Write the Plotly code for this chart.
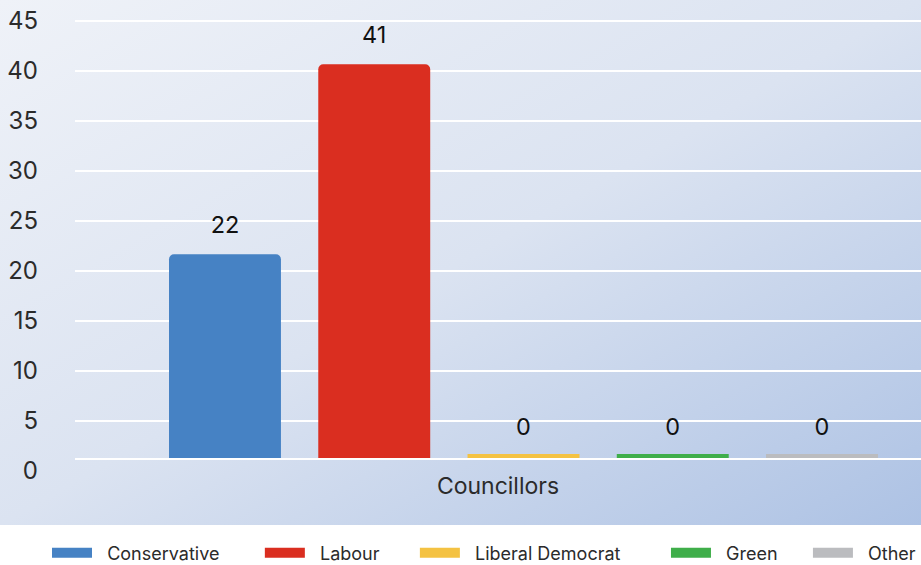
import base64
import plotly.graph_objects as go

# ---- data ----
category = ["Councillors"]
parties = ["Conservative", "Labour", "Liberal Democrat", "Green", "Other"]
seats = [22, 41, 0, 0, 0]
colors = ["#4682c4", "#da2e20", "#f4c242", "#3fae4a", "#bbbcbf"]
y_ticks = [0, 5, 10, 15, 20, 25, 30, 35, 40, 45]

# ---- layout constants ----
W, H = 921, 565
ML, MR, MT, MB = 75, 0, 0, 85
PLOT_H = H - MT - MB           # 480
AXIS_PX = 458                  # pixel row of the category axis
PX_PER_UNIT = 10.0
TOP_VAL = 45 + 20.7 / PX_PER_UNIT
Y_BOTTOM = TOP_VAL - AXIS_PX / PX_PER_UNIT
GRID_BOTTOM = TOP_VAL - PLOT_H / PX_PER_UNIT
BAR_SHIFT = 0.36               # bars sit slightly below the grid in the original
FONT = "Inter, Lato, sans-serif"
TXT = "#2b2b2b"
LEGEND_PRE = "\u00a0" * 2
LEGEND_PADS = [7, 6, 8, 5, 0]  # trailing spacing after each legend entry

# background gradient (as svg image)
svg = f"""<svg xmlns='http://www.w3.org/2000/svg' width='{W}' height='525' viewBox='0 0 {W} 525' preserveAspectRatio='none'>
<defs><linearGradient id='g' x1='0' y1='0' x2='1' y2='1'>
<stop offset='0' stop-color='#eff2f8'/><stop offset='0.5' stop-color='#dbe3f1'/><stop offset='1' stop-color='#adc2e4'/>
</linearGradient></defs><rect width='{W}' height='525' fill='url(#g)'/></svg>"""
src = "data:image/svg+xml;base64," + base64.b64encode(svg.encode()).decode()

plot_w = W - ML - MR
bar_lo = Y_BOTTOM + BAR_SHIFT
fig = go.Figure()

# grid / tick-label subplot (drawn first, so below the bars)
fig.add_trace(go.Scatter(x=category, y=[None], yaxis="y", showlegend=False,
                         hoverinfo="skip"))

for name, val, col, pad in zip(parties, seats, colors, LEGEND_PADS):
    zero = val == 0
    fig.add_trace(go.Bar(
        x=category, y=[val], name=name, yaxis="y2",
        marker=dict(color=col, cornerradius=5,
                    line=dict(color=col, width=4 if zero else 0)),
        base=[bar_lo + 0.2] if zero else None,
        texttemplate="<span style='font-size:23.5px'>%{y}</span><br>\u00a0",
        textposition="outside",
        textfont=dict(size=11.5 if zero else 12, color="#111", family=FONT),
        cliponaxis=False,
        showlegend=False, legendgroup=name,
        hoverinfo="name+y",
    ))
    fig.add_trace(go.Scatter(
        x=[None], y=[None], mode="lines",
        name=LEGEND_PRE + name + "\u00a0" * pad,
        legendgroup=name, line=dict(color=col, width=16), showlegend=True,
    ))

fig.update_layout(
    width=W, height=H,
    margin=dict(l=ML, r=MR, t=MT, b=MB, pad=0, autoexpand=False),
    paper_bgcolor="white", plot_bgcolor="rgba(0,0,0,0)",
    barmode="group", bargap=0.168, bargroupgap=0.25,
    font=dict(family=FONT, color=TXT),
    images=[dict(source=src, xref="paper", yref="paper",
                 x=-ML / plot_w, y=1, sizex=W / plot_w, sizey=525 / PLOT_H,
                 xanchor="left", yanchor="top", sizing="stretch", layer="below")],
    xaxis=dict(range=[-0.5, 0.5 * plot_w / 448.5 - 0.5], anchor="y2",
               showticklabels=False, showgrid=False, zeroline=False,
               showline=True, linecolor="white", linewidth=1.5,
               fixedrange=True, automargin=False,
               title=dict(text="Councillors", font=dict(size=23, color=TXT), standoff=19)),
    yaxis=dict(domain=[0, 1], range=[GRID_BOTTOM, TOP_VAL], anchor="free", position=0,
               tickvals=y_ticks, showgrid=True, gridcolor="white", gridwidth=1.5,
               zeroline=True, zerolinecolor="rgba(0,0,0,0)",
               showline=False, tickfont=dict(size=24, color=TXT),
               ticklabelstandoff=37, fixedrange=True, automargin=False),
    yaxis2=dict(domain=[(PLOT_H - AXIS_PX) / PLOT_H, 1],
                range=[bar_lo, TOP_VAL + BAR_SHIFT], anchor="x",
                showticklabels=False, showgrid=False, zeroline=False,
                fixedrange=True, automargin=False),
    legend=dict(orientation="h", x=(47 - ML) / plot_w, xanchor="left",
                y=(PLOT_H - 553) / PLOT_H, yanchor="middle",
                font=dict(size=18, color=TXT), itemwidth=40,
                bgcolor="rgba(0,0,0,0)", traceorder="normal"),
)

fig.write_html("out.html", config={"displayModeBar": False},
               post_script="document.body.style.margin='0';document.body.style.overflow='hidden';")
